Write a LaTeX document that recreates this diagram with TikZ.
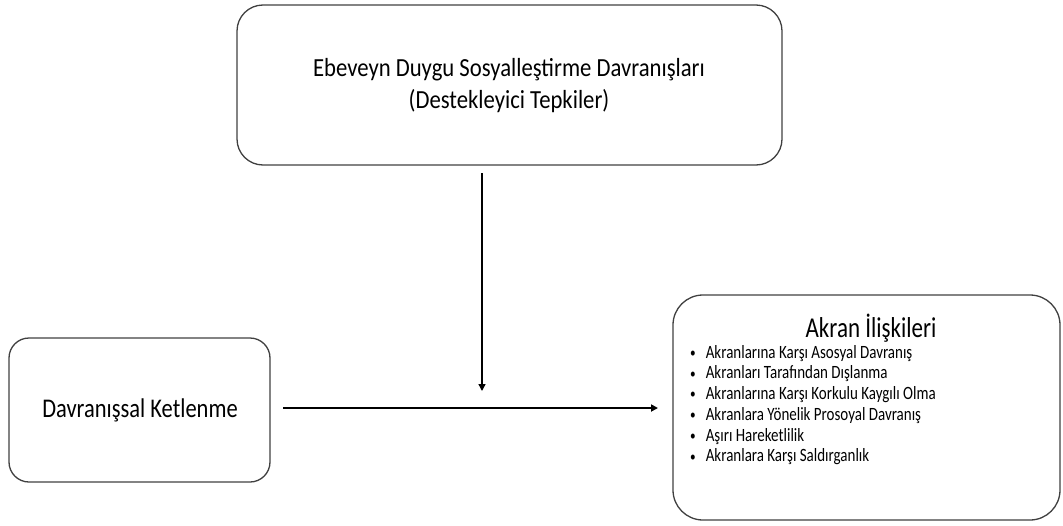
\documentclass[tikz,border=0pt]{standalone}
\usepackage{fontspec}
\setmainfont{Carlito}
\usetikzlibrary{arrows.meta}
\newcommand{\smbul}{\raisebox{0.6pt}{\scalebox{0.75}{•}}\hspace{10pt}}
\begin{document}
\begin{tikzpicture}[x=1pt,y=-1pt,
  box/.style={draw=black!75, line width=1.3pt, rounded corners=#1},
  conn/.style={draw=black, line width=1.8pt, -{Triangle[length=7pt,width=7pt]}},
  lbl/.style={inner sep=0pt, align=center}]
\useasboundingbox (0,0) rectangle (1063,525);
\draw[box=26pt] (237,5) rectangle (782,165);
\node[lbl, font=\fontsize{22.7}{28}\selectfont] (top) at (509,86)
  {\scalebox{1}[1.15]{\begin{tabular}{@{}c@{}}Ebeveyn Duygu Sosyalleştirme Davranışları\\(Destekleyici Tepkiler)\end{tabular}}};
\coordinate (topb) at (482,173);
\draw[box=20pt] (9,338) rectangle (270,482);
\node[lbl, font=\fontsize{22.5}{26}\selectfont] (left) at (140,410) {\scalebox{1}[1.2]{Davranışsal Ketlenme}};
\coordinate (leftr) at (283,408);
\draw[box=30pt] (673,295) rectangle (1060,520);
\node[lbl, font=\fontsize{23}{28}\selectfont] (title) at (871,328) {\scalebox{1}[1.25]{Akran İlişkileri}};
\node[lbl, anchor=north west, font=\fontsize{15}{16.6}\selectfont] (list) at (690,343.5)
{\scalebox{1}[1.25]{\begin{tabular}{@{}l@{}}
\smbul Akranlarına Karşı Asosyal Davranış\\
\smbul Akranları Tarafından Dışlanma\\
\smbul Akranlarına Karşı Korkulu Kaygılı Olma\\
\smbul Akranlara Yönelik Prosoyal Davranış\\
\smbul Aşırı Hareketlilik\\
\smbul Akranlara Karşı Saldırganlık
\end{tabular}}};
\coordinate (rightl) at (658,408);
\coordinate (mid) at (482,391);
\draw[conn, line width=1.4pt] (topb) -- (mid);
\draw[conn] (leftr) -- (rightl);
\end{tikzpicture}
\end{document}
